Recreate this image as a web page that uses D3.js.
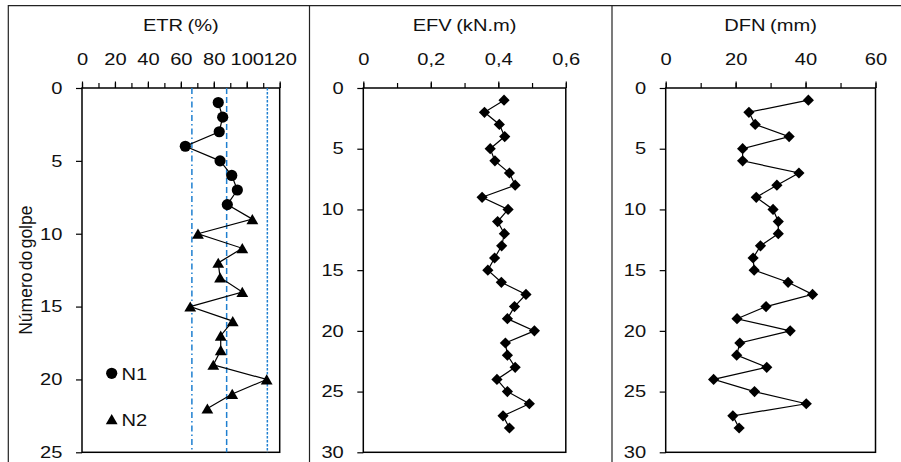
<!DOCTYPE html>
<html>
<head>
<meta charset="utf-8">
<script src="https://cdn.jsdelivr.net/npm/d3@7"></script>
<style>
  html, body { margin: 0; padding: 0; background: #fff; }
  svg { display: block; font-family: "Liberation Sans", Arial, Helvetica, sans-serif; }
</style>
</head>
<body>
<svg id="chart" width="901" height="462"></svg>
<script>
// ---- Data ---------------------------------------------------------------
// ETR (%) per blow, two hammer series
const golpesN1 = [1, 2, 3, 4, 5, 6, 7, 8];
const etrN1 = [82.7, 85.4, 83.3, 62.7, 83.8, 90.9, 94.3, 88.2];
const golpesN2 = [9, 10, 11, 12, 13, 14, 15, 16, 17, 18, 19, 20, 21, 22];
const etrN2 = [103.4, 70.4, 97.3, 82.7, 83.8, 97.3, 65.7, 91.5, 84.2, 84.2, 79.7, 112.1, 91.2, 76.1];
// Reference lines on the ETR panel
const etrRefLines = [66.7, 87.8, 112.5];

// EFV (kN.m) and DFN (mm) per blow
const golpes = [1, 2, 3, 4, 5, 6, 7, 8, 9, 10, 11, 12, 13, 14, 15, 16, 17, 18, 19, 20, 21, 22, 23, 24, 25, 26, 27, 28];
const efv = [0.417, 0.359, 0.403, 0.419, 0.376, 0.390, 0.433, 0.450, 0.352, 0.429, 0.398, 0.418, 0.410, 0.389,
             0.369, 0.409, 0.482, 0.448, 0.427, 0.507, 0.421, 0.427, 0.450, 0.396, 0.427, 0.492, 0.414, 0.433];
const dfn = [40.8, 23.8, 25.6, 35.3, 22.0, 22.0, 38.1, 31.8, 25.9, 30.7, 32.2, 32.2, 27.1, 25.0,
             25.3, 35.0, 42.0, 28.7, 20.4, 35.6, 21.2, 20.3, 28.9, 13.7, 25.4, 40.2, 19.2, 21.0];

// Tick values
const etrXTicks = [0, 20, 40, 60, 80, 100, 120];
const etrXMinor = [0, 10, 20, 30, 40, 50, 60, 70, 80, 90, 100, 110, 120];
const etrYTicks = [0, 5, 10, 15, 20, 25];
const efvXTicks = [0, 0.2, 0.4, 0.6];
const efvXMinor = [0, 0.1, 0.2, 0.3, 0.4, 0.5, 0.6];
const dfnXTicks = [0, 20, 40, 60];
const dfnXMinor = [0, 10, 20, 30, 40, 50, 60];
const golpeYTicks = [0, 5, 10, 15, 20, 25, 30];

// ---- Layout ---------------------------------------------------------------
const SX = 1.22;            // horizontal stretch of the lettering
const FS = 16.5;            // font size
const plotTop = 88, plotBottom = 452.3;

const svg = d3.select("#chart");

// outer frame with panel separators
const frame = svg.append("g").attr("fill", "none").attr("stroke", "#222").attr("stroke-width", 1.2);
frame.append("path").attr("d", "M8.3,462V5.7H901");
[309.5, 612].forEach(xx => frame.append("line").attr("x1", xx).attr("x2", xx).attr("y1", 5.7).attr("y2", 462));

const fmtComma = d => d3.format(".1f")(d).replace(".", ",").replace(/^0,0$/, "0");

function panel(cfg) {
  const x = d3.scaleLinear().domain(cfg.xDomain).range([cfg.left, cfg.right]);
  const y = d3.scaleLinear().domain(cfg.yDomain).range([plotTop, plotBottom]);
  const g = svg.append("g");

  // minor ticks on top
  g.append("g").attr("transform", `translate(0,${plotTop})`)
    .call(d3.axisTop(x).tickValues(cfg.xMinor).tickSize(5).tickFormat(""))
    .call(a => a.select(".domain").remove())
    .call(a => a.selectAll("line").attr("stroke", "#000").attr("stroke-width", 1.2));

  // major ticks and labels on top
  g.append("g").attr("transform", `translate(0,${plotTop})`)
    .call(d3.axisTop(x).tickValues(cfg.xTicks).tickSize(6.5).tickPadding(16.2).tickFormat(cfg.xFormat))
    .call(a => a.select(".domain").remove())
    .call(a => a.selectAll("line").attr("stroke", "#000").attr("stroke-width", 1.2))
    .call(a => a.selectAll("text").attr("fill", "#111").attr("font-size", FS)
      .attr("font-family", "Liberation Sans, Arial, sans-serif")
      .attr("transform", `scale(${SX},1)`));

  // left axis
  g.append("g").attr("transform", `translate(${cfg.left},0)`)
    .call(d3.axisLeft(y).tickValues(cfg.yTicks).tickSize(6).tickPadding(10))
    .call(a => a.select(".domain").remove())
    .call(a => a.selectAll("line").attr("stroke", "#000").attr("stroke-width", 1.2))
    .call(a => a.selectAll("text").attr("fill", "#111").attr("font-size", FS)
      .attr("font-family", "Liberation Sans, Arial, sans-serif")
      .attr("transform", `scale(${SX},1)`));

  // plot frame
  g.append("rect")
    .attr("x", cfg.left).attr("y", plotTop)
    .attr("width", cfg.right - cfg.left).attr("height", plotBottom - plotTop)
    .attr("fill", "none").attr("stroke", "#000").attr("stroke-width", 1.5);

  // panel title
  g.append("text")
    .attr("transform", `translate(${(cfg.left + cfg.right) / 2},31) scale(${SX},1)`)
    .attr("text-anchor", "middle").attr("font-size", FS).attr("fill", "#111")
    .attr("word-spacing", "-1px")
    .text(cfg.title);

  return { g, x, y };
}

// marker shapes
const circleMark = d3.symbol(d3.symbolCircle, 98)();
const triangleMark = "M0,-5.2L5.9,5L-5.9,5Z";
const diamondMark = "M0,-5.6L5.6,0L0,5.6L-5.6,0Z";

// ---- ETR panel -------------------------------------------------------------
{
  const p = panel({
    left: 82, right: 279.7, xDomain: [0, 120], yDomain: [0, 25],
    xTicks: etrXTicks, xMinor: etrXMinor, yTicks: etrYTicks,
    xFormat: d3.format("d"), title: "ETR (%)"
  });
  const dashes = ["6,3,1.5,3", "6,3", "2.5,1.5"];
  p.g.selectAll(".ref").data(etrRefLines).join("line")
    .attr("x1", d => p.x(d)).attr("x2", d => p.x(d))
    .attr("y1", plotTop).attr("y2", plotBottom)
    .attr("stroke", "#1f7fd0").attr("stroke-width", 1.5)
    .attr("stroke-dasharray", (d, i) => dashes[i]);

  const n1 = golpesN1.map((gv, i) => ({ g: gv, v: etrN1[i] }));
  const n2 = golpesN2.map((gv, i) => ({ g: gv, v: etrN2[i] }));
  const line = d3.line().x(d => p.x(d.v)).y(d => p.y(d.g));
  p.g.append("path").datum(n1.concat(n2)).attr("d", line)
    .attr("fill", "none").attr("stroke", "#000").attr("stroke-width", 1.2);
  p.g.selectAll(".n1").data(n1).join("path")
    .attr("d", circleMark).attr("transform", d => `translate(${p.x(d.v)},${p.y(d.g)})`).attr("fill", "#000");
  p.g.selectAll(".n2").data(n2).join("path")
    .attr("d", triangleMark).attr("transform", d => `translate(${p.x(d.v)},${p.y(d.g)})`).attr("fill", "#000");

  // legend
  const leg = p.g.append("g");
  leg.append("path").attr("d", circleMark).attr("transform", "translate(111.7,373.3)").attr("fill", "#000");
  leg.append("text").attr("transform", `translate(121.5,380) scale(${SX},1)`)
    .attr("font-size", FS).attr("fill", "#111").text("N1");
  leg.append("path").attr("d", triangleMark).attr("transform", "translate(111.7,419.3)").attr("fill", "#000");
  leg.append("text").attr("transform", `translate(121.5,425.5) scale(${SX},1)`)
    .attr("font-size", FS).attr("fill", "#111").text("N2");
}

// y axis title
svg.append("text")
  .attr("transform", `translate(31.5,${(plotTop + plotBottom) / 2}) rotate(-90)`)
  .attr("text-anchor", "middle").attr("font-size", 17.5).attr("fill", "#111")
  .attr("word-spacing", "-2.5px")
  .text("Número do golpe");

// ---- EFV panel -------------------------------------------------------------
{
  const p = panel({
    left: 363.3, right: 565.8, xDomain: [0, 0.6], yDomain: [0, 30],
    xTicks: efvXTicks, xMinor: efvXMinor, yTicks: golpeYTicks,
    xFormat: fmtComma, title: "EFV (kN.m)"
  });
  const pts = golpes.map((gv, i) => ({ g: gv, v: efv[i] }));
  p.g.append("path").datum(pts).attr("d", d3.line().x(d => p.x(d.v)).y(d => p.y(d.g)))
    .attr("fill", "none").attr("stroke", "#000").attr("stroke-width", 1.2);
  p.g.selectAll(".pt").data(pts).join("path")
    .attr("d", diamondMark).attr("transform", d => `translate(${p.x(d.v)},${p.y(d.g)})`).attr("fill", "#000");
}

// ---- DFN panel -------------------------------------------------------------
{
  const p = panel({
    left: 665.7, right: 875.5, xDomain: [0, 60], yDomain: [0, 30],
    xTicks: dfnXTicks, xMinor: dfnXMinor, yTicks: golpeYTicks,
    xFormat: d3.format("d"), title: "DFN (mm)"
  });
  const pts = golpes.map((gv, i) => ({ g: gv, v: dfn[i] }));
  p.g.append("path").datum(pts).attr("d", d3.line().x(d => p.x(d.v)).y(d => p.y(d.g)))
    .attr("fill", "none").attr("stroke", "#000").attr("stroke-width", 1.2);
  p.g.selectAll(".pt").data(pts).join("path")
    .attr("d", diamondMark).attr("transform", d => `translate(${p.x(d.v)},${p.y(d.g)})`).attr("fill", "#000");
}
</script>
</body>
</html>
